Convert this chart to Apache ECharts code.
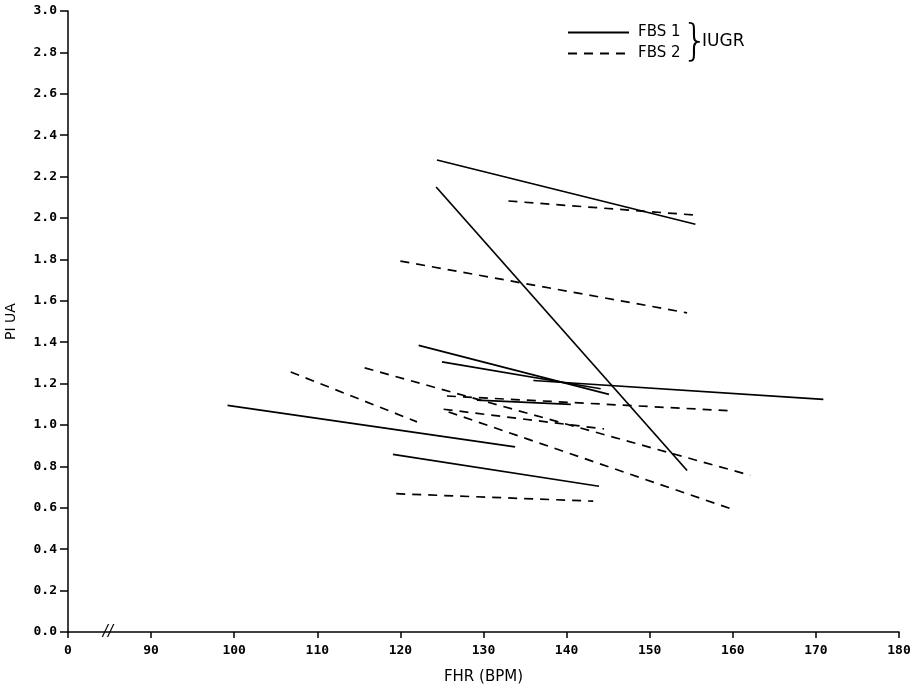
<!DOCTYPE html>
<html>
<head>
<meta charset="utf-8">
<script src="https://cdn.jsdelivr.net/npm/echarts@6/dist/echarts.min.js"></script>
<style>html,body{margin:0;padding:0;background:#fff;}#c{width:918px;height:684px;}</style>
</head>
<body>
<div id="c"></div>
<script>
// ---- data ----
const xTickValues = [80, 90, 100, 110, 120, 130, 140, 150, 160, 170, 180];
const xTickLabels = ['0', '90', '100', '110', '120', '130', '140', '150', '160', '170', '180'];
const yTickLabels = ['0.0','0.2','0.4','0.6','0.8','1.0','1.2','1.4','1.6','1.8','2.0','2.2','2.4','2.6','2.8','3.0'];

// FBS 1 (solid) segments: [[x1, y1], [x2, y2]]
const fbs1Segments = [
  [[124.4, 2.28], [155.5, 1.97]],
  [[124.3, 2.15], [154.5, 0.78]],
  [[122.2, 1.385], [145.1, 1.148]],
  [[125.0, 1.305], [144.1, 1.175]],
  [[136.0, 1.215], [170.9, 1.124]],
  [[129.2, 1.12], [140.5, 1.10]],
  [[99.2, 1.095], [133.8, 0.894]],
  [[119.1, 0.858], [143.9, 0.704]]
];
// FBS 2 (dashed) segments
const fbs2Segments = [
  [[133.0, 2.082], [155.5, 2.014]],
  [[120.0, 1.792], [154.5, 1.542]],
  [[106.8, 1.256], [122.0, 1.015]],
  [[115.7, 1.276], [162.1, 0.757]],
  [[125.6, 1.14], [160.1, 1.068]],
  [[125.2, 1.076], [144.5, 0.981]],
  [[125.8, 1.063], [160.3, 0.588]],
  [[119.5, 0.668], [143.2, 0.632]]
];
const seriesNames = ['FBS 1', 'FBS 2'];
const groupLabel = 'IUGR';

// ---- chart ----
const chart = echarts.init(document.getElementById('c'));
const series = [];
fbs1Segments.forEach(seg => series.push({
  name: seriesNames[0], type: 'line', data: seg, symbol: 'none', silent: true,
  lineStyle: { color: '#000', width: 1.7, type: 'solid' }, itemStyle: { color: '#000' }
}));
fbs2Segments.forEach(seg => series.push({
  name: seriesNames[1], type: 'line', data: seg, symbol: 'none', silent: true,
  lineStyle: { color: '#000', width: 1.7, type: [9, 7] }, itemStyle: { color: '#000' }
}));

chart.setOption({
  animation: false,
  backgroundColor: '#fff',
  grid: { left: 68, right: 19, top: 11, bottom: 52, containLabel: false, outerBoundsMode: 'none' },
  legend: {
    data: seriesNames, orient: 'vertical', left: 567, top: 25, padding: 0,
    itemWidth: 61, itemHeight: 14, itemGap: 6,
    itemStyle: { opacity: 0 },
    textStyle: { color: '#000', fontSize: 15, fontFamily: 'DejaVu Sans', padding: [0, 0, 0, 4] }
  },
  xAxis: {
    type: 'value', min: 80, max: 180, interval: 10,
    name: 'FHR (BPM)', nameLocation: 'middle', nameGap: 38,
    nameTextStyle: { color: '#000', fontSize: 15, fontFamily: 'DejaVu Sans' },
    axisLine: { lineStyle: { color: '#000', width: 1.5 } },
    axisTick: { show: true, length: 6, lineStyle: { color: '#000', width: 1.5 } },
    axisLabel: {
      color: '#000', fontSize: 13, fontFamily: 'DejaVu Sans Mono', fontWeight: 'bold', margin: 12,
      formatter: v => { const i = xTickValues.indexOf(Math.round(v)); return i >= 0 ? xTickLabels[i] : ''; }
    },
    splitLine: { show: false }
  },
  yAxis: {
    type: 'value', min: 0, max: 3, interval: 0.2,
    name: 'PI UA', nameLocation: 'middle', nameGap: 50, nameRotate: 90,
    nameTextStyle: { color: '#000', fontSize: 14, fontFamily: 'DejaVu Sans' },
    axisLine: { show: true, lineStyle: { color: '#000', width: 1.5 } },
    axisTick: { show: true, length: 8, lineStyle: { color: '#000', width: 1.5 } },
    axisLabel: {
      color: '#000', fontSize: 13, fontFamily: 'DejaVu Sans Mono', fontWeight: 'bold', margin: 11,
      formatter: v => yTickLabels[Math.round(v / 0.2)]
    },
    splitLine: { show: false }
  },
  series: series
});

// axis break mark and legend brace
const bp = chart.convertToPixel({ gridIndex: 0 }, [84.8, 0]);
chart.setOption({
  graphic: [
    { type: 'text', x: bp[0], y: bp[1], style: { text: '//', fill: '#000', font: 'italic 15px DejaVu Sans', align: 'center', verticalAlign: 'middle' } },
    { type: 'text', x: 695, y: 44, style: { text: '}', fill: '#000', font: '300 42px DejaVu Sans', align: 'center', verticalAlign: 'middle' } },
    { type: 'text', x: 702, y: 42, style: { text: groupLabel, fill: '#000', font: '17px DejaVu Sans', align: 'left', verticalAlign: 'middle' } }
  ]
});
</script>
</body>
</html>
